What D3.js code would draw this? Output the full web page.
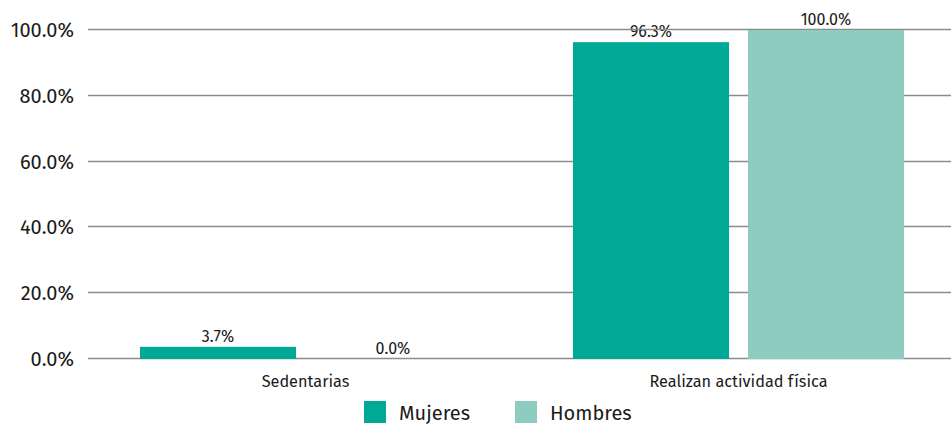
<!DOCTYPE html>
<html>
<head>
<meta charset="utf-8">
<script src="https://cdn.jsdelivr.net/npm/d3@7"></script>
<style>
  html, body { margin: 0; padding: 0; background: #fff; }
  svg { display: block; font-family: "Fira Sans", "Open Sans", "Noto Sans", sans-serif; }
</style>
</head>
<body>
<svg id="chart" width="951" height="424"></svg>
<script>
// Categories, series and tick values
const categories = ["Sedentarias", "Realizan actividad física"];
const seriesNames = ["Mujeres", "Hombres"];
const mujeres = [3.7, 96.3];
const hombres = [0.0, 100.0];
const yTicks = [0, 20, 40, 60, 80, 100];
const colors = ["#00a896", "#8ecbc1"];

const values = [mujeres, hombres];
const svg = d3.select("#chart");

const x0 = d3.scaleBand().domain(categories).range([89, 955]).paddingInner(0).paddingOuter(0);
const groupWidth = 331;
const x1 = d3.scaleBand().domain(seriesNames).range([0, groupWidth]).paddingInner(0.108).paddingOuter(0);
const y = d3.scaleLinear().domain([0, 100]).range([359, 30]);

const groupShift = d => x0(d) + x0.bandwidth() / 2 - groupWidth / 2;
const cells = (d, i) => seriesNames.map((s, j) => ({ s, v: values[j][i], j }));

// Value labels (drawn under the gridlines)
svg.append("g")
  .selectAll("g")
  .data(categories)
  .join("g")
  .attr("transform", d => `translate(${groupShift(d)},0)`)
  .selectAll("text")
  .data(cells)
  .join("text")
  .attr("x", d => x1(d.s) + x1.bandwidth() / 2)
  .attr("y", d => y(d.v) - 5)
  .attr("text-anchor", "middle")
  .attr("font-size", 16)
  .attr("fill", "#1a1a1a")
  .text(d => d3.format(".1f")(d.v) + "%");

// Gridlines
svg.append("g")
  .selectAll("line")
  .data(yTicks)
  .join("line")
  .attr("x1", 88).attr("x2", 951)
  .attr("y1", d => Math.round(y(d)) - 0.5).attr("y2", d => Math.round(y(d)) - 0.5)
  .attr("stroke", "#8c8c8c").attr("stroke-width", 1.3);

// Y axis labels
svg.append("g")
  .selectAll("text")
  .data(yTicks)
  .join("text")
  .attr("x", 74)
  .attr("y", d => y(d))
  .attr("dy", "0.35em")
  .attr("text-anchor", "end")
  .attr("font-size", 20)
  .attr("fill", "#1a1a1a")
  .text(d => d3.format(".1f")(d) + "%");

// Bars
svg.append("g")
  .selectAll("g")
  .data(categories)
  .join("g")
  .attr("transform", d => `translate(${groupShift(d)},0)`)
  .selectAll("rect")
  .data(cells)
  .join("rect")
  .attr("x", d => x1(d.s))
  .attr("width", x1.bandwidth())
  .attr("y", d => y(d.v))
  .attr("height", d => y(0) - y(d.v))
  .attr("fill", d => colors[d.j]);

// Category labels
svg.append("g")
  .selectAll("text")
  .data(categories)
  .join("text")
  .attr("x", d => x0(d) + x0.bandwidth() / 2)
  .attr("y", 387)
  .attr("text-anchor", "middle")
  .attr("font-size", 16.3)
  .attr("fill", "#1a1a1a")
  .text(d => d);

// Legend
const legendX = [364, 515];
const legend = svg.append("g")
  .selectAll("g")
  .data(seriesNames)
  .join("g")
  .attr("transform", (d, i) => `translate(${legendX[i]},401)`);
legend.append("rect").attr("width", 22).attr("height", 22).attr("fill", (d, i) => colors[i]);
legend.append("text")
  .attr("x", 35).attr("y", 12).attr("dy", "0.35em")
  .attr("font-size", 20).attr("fill", "#1a1a1a")
  .text(d => d);
</script>
</body>
</html>
